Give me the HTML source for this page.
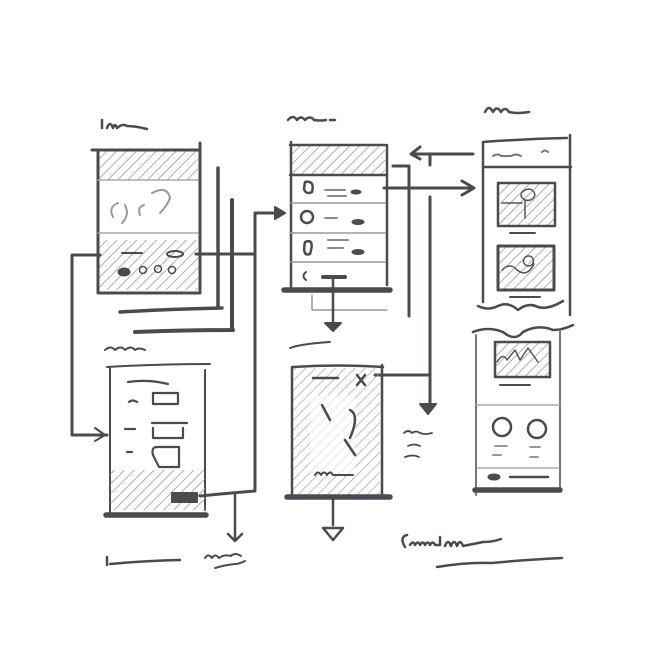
<!DOCTYPE html>
<html><head><meta charset="utf-8"><style>html,body{margin:0;padding:0;background:#fff}svg{display:block}</style></head>
<body>
<svg width="670" height="670" viewBox="0 0 670 670" xmlns="http://www.w3.org/2000/svg" fill="none" stroke-linecap="round" stroke-linejoin="round">
<defs>
<pattern id="h" width="7" height="7" patternUnits="userSpaceOnUse" patternTransform="rotate(45)">
<line x1="0" y1="0" x2="0" y2="7" stroke="#999" stroke-width="1.6"/>
</pattern>
</defs>
<g stroke="#4a4b50">
<!-- titles -->
<path d="M102 128v-8M107 128q3-8 6 0q2-6 4 0q6-5 10-2q8 0 20 3" stroke-width="2.5"/>
<path d="M288 120q5-6 9 0q4-5 8 0q5-5 9 0q8 1 12 0M330 120h5" stroke-width="2.5"/>
<path d="M485 112q4-8 8 0q4-7 8 0q4-6 8 0q8 2 20 0" stroke-width="2.5"/>
<path d="M105 350q6-5 10 0q6-5 10 0q6-5 10 0q4-3 10 0" stroke-width="2"/>
<path d="M290 348q10-4 40-6" stroke-width="2"/>

<!-- top-left screen stack -->
<rect x="98" y="150" width="100" height="30" fill="url(#h)" stroke="none"/>
<rect x="98" y="240" width="100" height="50" fill="url(#h)" stroke="none"/>
<path d="M92 150h108M98 150v143M200 143v150M98 293h102" stroke-width="3"/>
<path d="M98 180h100M98 233h100" stroke="#aaa" stroke-width="1.5"/>
<path d="M113 217q-5-10 5-14M125 205q5 10-3 18M152 193q15-8 18 5q-3 8-10 15M140 215q-3-8 4-10" stroke="#999" stroke-width="2"/>
<path d="M122 253h20" stroke-width="2"/>
<ellipse cx="175" cy="254" rx="8" ry="3" stroke-width="2"/>
<ellipse cx="124" cy="272" rx="6" ry="4" fill="#4a4b50"/>
<circle cx="143" cy="270" r="3.5" stroke-width="1.5"/><circle cx="158" cy="269" r="3.5" stroke-width="1.5"/><circle cx="172" cy="270" r="3.5" stroke-width="1.5"/>
<path d="M218 168v140M120 312q50-3 102-4" stroke-width="3.5"/>
<path d="M232 200v130M135 332q50-2 98-2" stroke-width="4"/>

<!-- connectors left -->
<path d="M100 255h-28v180h35" stroke-width="3"/>
<path d="M95 428l10 7-10 6" stroke-width="2"/>
<path d="M196 254h59" stroke-width="3"/>
<path d="M255 490v-277h25" stroke-width="3"/>
<path d="M275 207l10 6-10 6z" fill="#4a4b50" stroke-width="2"/>

<!-- top-middle screen -->
<rect x="290" y="145" width="95" height="30" fill="url(#h)" stroke="none"/>
<path d="M291 142v145M290 145h95M387 145v140M290 175h95" stroke-width="2.5"/>
<path d="M290 203h95M290 233h95M290 262h95" stroke="#999" stroke-width="1.5"/>
<path d="M305 182q10-2 7 10q-6 3-8-3z" stroke-width="2.5"/>
<circle cx="307" cy="217" r="6" stroke-width="2.5"/>
<path d="M305 242q10-4 5 12q-8 3-5-12z" stroke-width="2.5"/>
<path d="M306 272q-5 4 0 8" stroke-width="2"/>
<path d="M325 190h20M328 196h18M325 218h12M328 240h20M328 248h15" stroke="#888" stroke-width="2"/>
<ellipse cx="356" cy="192" rx="5" ry="2" fill="#4a4b50"/><ellipse cx="358" cy="222" rx="6" ry="2.5" fill="#4a4b50"/><ellipse cx="358" cy="252" rx="6" ry="2.5" fill="#4a4b50"/>
<path d="M323 277h22" stroke-width="4"/>
<path d="M284 290h106" stroke-width="5.5"/>
<path d="M312 295v15h75" stroke="#999" stroke-width="1.5"/>
<path d="M333 277v48" stroke-width="2.5"/>
<path d="M325 323h16l-8 8z" fill="#4a4b50" stroke-width="2"/>

<!-- right connectors -->
<path d="M384 188h88" stroke-width="3"/>
<path d="M462 181l12 7-12 7" stroke-width="3"/>
<path d="M473 154h-62M420 147l-9 7 9 5M430 155v10" stroke-width="3"/>
<path d="M393 166h16v150" stroke-width="3"/>
<path d="M430 197v208M430 375h-55" stroke-width="3"/>
<path d="M420 404h16l-8 10z" fill="#4a4b50" stroke-width="2"/>
<path d="M404 433q4-4 8 0q4-3 8 0q5 2 12 0M408 446q6-3 12 0M405 457q8-3 14 0" stroke-width="1.8"/>

<!-- right top screen -->
<path d="M483 142q40-3 84-4M483 142v160M570 135v180M483 167h88" stroke-width="2.5"/>
<path d="M493 156q5-3 8 0h10q5-3 10 0M542 152q3-3 6 0" stroke="#777" stroke-width="2"/>
<rect x="498" y="183" width="57" height="43" fill="url(#h)" stroke-width="2.5"/>
<path d="M525 218v-18q-8-5 0-10q8-3 10 5q-3 7-10 5M502 203h20" stroke="#555" stroke-width="1.5"/>
<path d="M498 226h55M510 233h25" stroke-width="2"/>
<rect x="498" y="246" width="56" height="44" fill="url(#h)" stroke-width="3"/>
<path d="M502 270q8-8 15 0q10 8 17-6M528 256a5 5 0 1 0 1 0" stroke="#555" stroke-width="1.5"/>
<path d="M510 297h30" stroke-width="2"/>
<path d="M478 306q10 5 20 0q10-5 20 4q10-8 20-3q10 3 25-6" stroke-width="2.5"/>

<!-- right bottom screen -->
<path d="M473 332q15-6 30 0q12 10 20 0q15-8 30-2q10 0 20-5" stroke-width="2.5"/>
<path d="M476 335v160M560 330v160" stroke="#777" stroke-width="2"/>
<rect x="495" y="342" width="55" height="35" fill="url(#h)" stroke-width="2.5"/>
<path d="M497 362q6-10 10-2l8-10 5 10 8-12 10 14" stroke="#555" stroke-width="1.5"/>
<path d="M500 385h30" stroke-width="2"/>
<path d="M476 405h85" stroke="#aaa" stroke-width="1.5"/>
<circle cx="502" cy="427" r="9" stroke-width="2.5"/><circle cx="537" cy="429" r="9" stroke-width="2.5"/>
<path d="M495 446h12M530 447h10M493 455h8M530 457h8" stroke="#999" stroke-width="2"/>
<path d="M478 468h80" stroke="#aaa" stroke-width="1.5"/>
<ellipse cx="494" cy="477" rx="6" ry="3" fill="#4a4b50"/>
<path d="M510 477h38" stroke-width="2.5"/>
<path d="M475 490h85" stroke-width="5.5"/>

<!-- left bottom screen -->
<path d="M107 367q50-3 103-3M110 367v148M205 370v140" stroke-width="2"/>
<rect x="110" y="470" width="95" height="40" fill="url(#h)" stroke="none"/>
<path d="M128 382q20-3 40 2M129 402q3-3 8 0M153 393h25v11h-25zM125 429h10M152 423h35M153 428v10h30v-10M127 452h5M153 455q-2-8 4-8h22v20h-20z" stroke-width="2.2"/>
<rect x="172" y="493" width="25" height="9" fill="#4a4b50" stroke-width="2"/>
<path d="M106 515h100" stroke-width="5.5"/>
<path d="M200 496q30-3 55-5" stroke-width="3"/>
<path d="M235 493v45M228 534l7 7 7-7" stroke-width="2.5"/>

<!-- middle bottom screen -->
<rect x="292" y="368" width="88" height="128" fill="url(#h)" stroke="none" opacity="0.8"/>
<rect x="310" y="395" width="45" height="80" fill="#fff" opacity="0.6" stroke="none"/>
<path d="M293 367q45-3 90 0M292 367v130M382 365v130" stroke-width="2.5"/>
<path d="M313 378h25M357 375l8 10M365 375l-8 10M322 405l8 15M350 410q10 5 0 28M345 440l10 15" stroke-width="2.5"/>
<path d="M315 475q3-5 6 0q3-5 6 0q3-5 6 0h20" stroke-width="2"/>
<path d="M287 497h103" stroke-width="5.5"/>
<path d="M333 497v28M323 528h20l-10 12z" stroke-width="2.5"/>

<!-- bottom scribbles -->
<path d="M107 565v-8M110 564q30-3 70-4" stroke-width="2.5"/>
<path d="M205 558q3-5 7 0q3-5 7 0q5-4 12-2q4-4 10 0M215 568q10-3 20-4q4 0 10-3" stroke-width="2"/>
<path d="M405 547q-6-10 2-12M410 545q3-5 5 0q3-5 5 0q3-5 5 0q3-5 5 0q3-5 5 0h5v-8M445 546q3-8 6 0q3-8 6 0q3-8 6 0q10-2 20-4q10 0 18-3" stroke-width="2.5"/>
<path d="M437 567q30-5 55-4q30-3 70-5" stroke-width="2.5"/>
</g>
</svg>
</body></html>
